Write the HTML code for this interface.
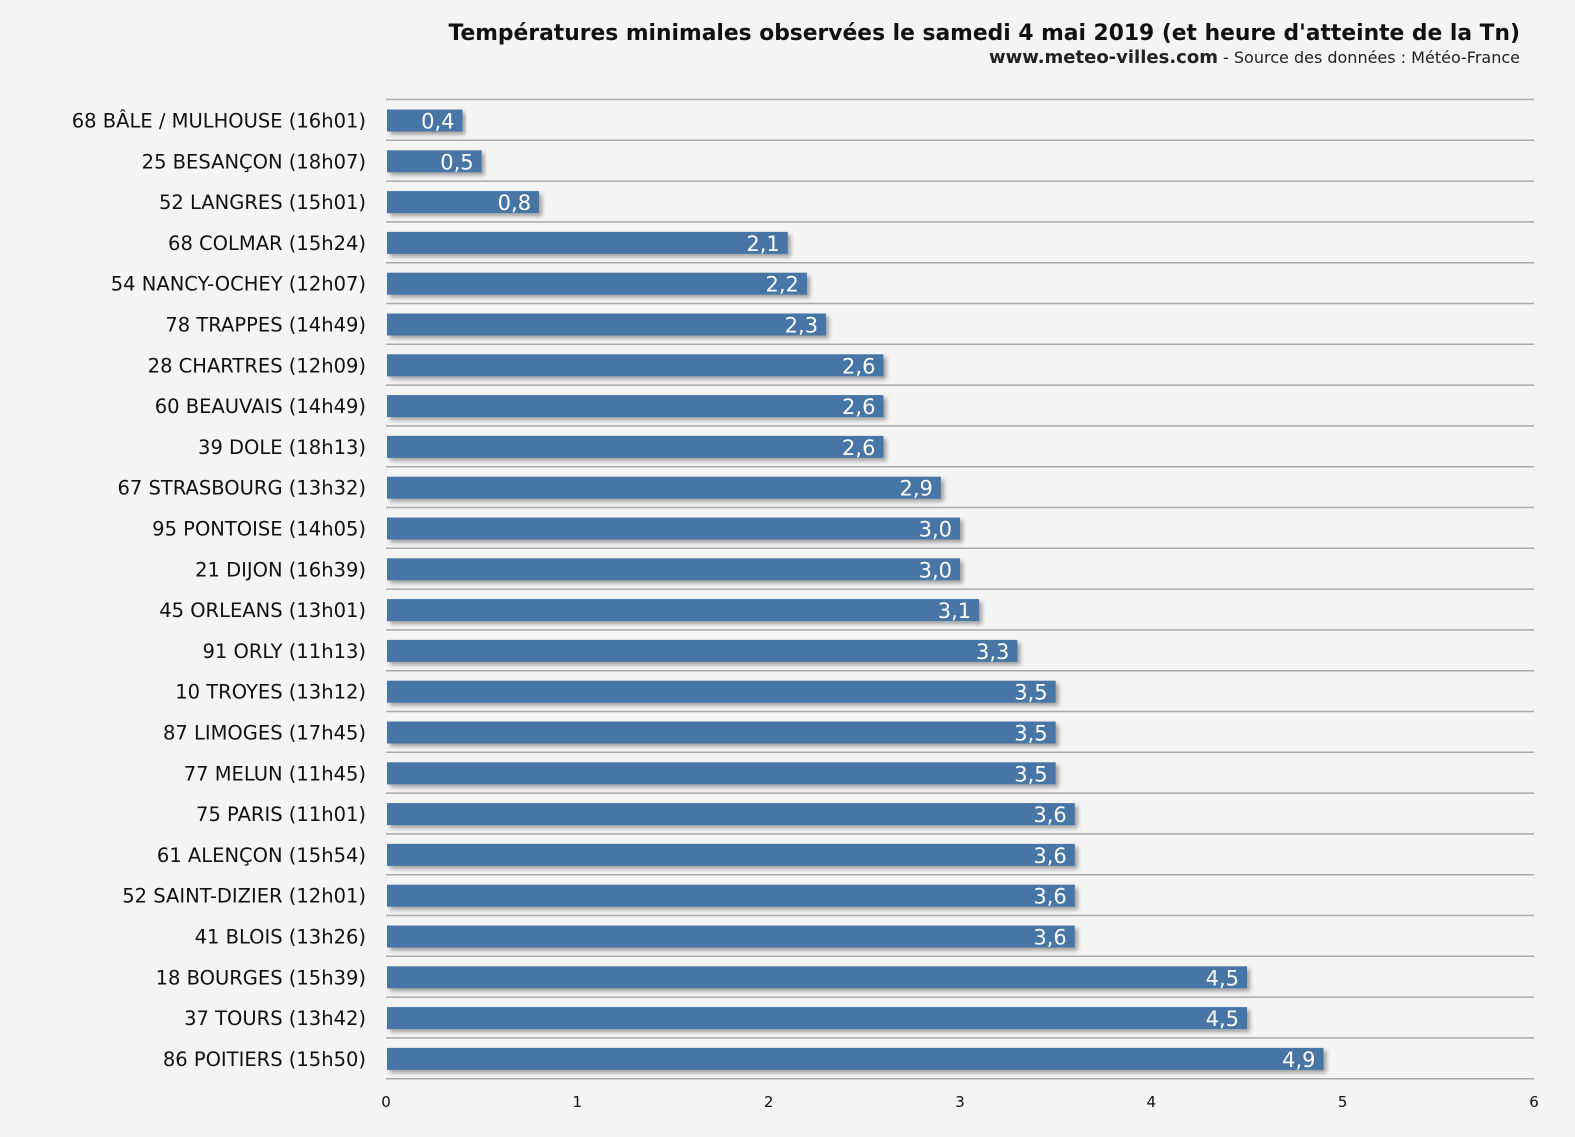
<!DOCTYPE html>
<html><head><meta charset="utf-8"><style>
body{margin:0;background:#f4f4f4;}
svg{display:block;font-family:"DejaVu Sans","Liberation Sans",sans-serif;}
</style></head><body>
<svg id="chart" width="1575" height="1137" viewBox="0 0 1575 1137">
<defs><filter id="sh" x="-5%" y="-20%" width="110%" height="160%"><feGaussianBlur in="SourceAlpha" stdDeviation="2"/><feOffset dx="3" dy="3"/><feComponentTransfer><feFuncA type="linear" slope="0.35"/></feComponentTransfer><feMerge><feMergeNode/><feMergeNode in="SourceGraphic"/></feMerge></filter></defs>
<rect width="1575" height="1137" fill="#f4f4f4"/>
<text x="1520" y="40" text-anchor="end" font-size="21.8" font-weight="bold" fill="#111">Températures minimales observées le samedi 4 mai 2019 (et heure d'atteinte de la Tn)</text>
<text x="1520" y="63" text-anchor="end" font-size="16" fill="#222"><tspan font-weight="bold" font-size="18">www.meteo-villes.com</tspan> - Source des données : Météo-France</text>
<g id="grid"></g><g id="bars"></g><g id="labels"></g><g id="ticks"></g>
</svg>
<script>
const categories=["68 BÂLE / MULHOUSE (16h01)","25 BESANÇON (18h07)","52 LANGRES (15h01)","68 COLMAR (15h24)","54 NANCY-OCHEY (12h07)","78 TRAPPES (14h49)","28 CHARTRES (12h09)","60 BEAUVAIS (14h49)","39 DOLE (18h13)","67 STRASBOURG (13h32)","95 PONTOISE (14h05)","21 DIJON (16h39)","45 ORLEANS (13h01)","91 ORLY (11h13)","10 TROYES (13h12)","87 LIMOGES (17h45)","77 MELUN (11h45)","75 PARIS (11h01)","61 ALENÇON (15h54)","52 SAINT-DIZIER (12h01)","41 BLOIS (13h26)","18 BOURGES (15h39)","37 TOURS (13h42)","86 POITIERS (15h50)"];
const values=[0.4,0.5,0.8,2.1,2.2,2.3,2.6,2.6,2.6,2.9,3.0,3.0,3.1,3.3,3.5,3.5,3.5,3.6,3.6,3.6,3.6,4.5,4.5,4.9];
const tickLabels=["0","1","2","3","4","5","6"];
const NS="http://www.w3.org/2000/svg";
const x0=386,x1=1534,xMax=6,y0=99.5,band=40.8;
const xs=v=>x0+(x1-x0)*v/xMax;
const ys=i=>y0+i*band;
function mk(t,a,p){const e=document.createElementNS(NS,t);for(const k in a)e.setAttribute(k,a[k]);document.getElementById(p).appendChild(e);return e;}
for(let i=0;i<=categories.length;i++){
  const l=mk("line",{x1:x0,x2:x1,y1:ys(i),y2:ys(i),stroke:"#aaa","stroke-width":1.5},"grid");
  
  
}
categories.forEach((c,i)=>{
  const y=ys(i);
  const r=mk("rect",{x:x0+1,y:y+10,width:xs(values[i])-x0-1,height:22,fill:"#4674a5",filter:"url(#sh)"},"bars");
  
  
  const v=mk("text",{x:xs(values[i])-8,y:y+29,"text-anchor":"end","font-size":21,fill:"#fff"},"bars");
  v.textContent=values[i].toFixed(1).replace(".",",");
  
  
  const t=mk("text",{x:366,y:y+28,"text-anchor":"end","font-size":19.5,fill:"#111"},"labels");
  t.textContent=c;
  
  
});
tickLabels.forEach((s,i)=>{
  const t=mk("text",{x:xs(i),y:1107,"text-anchor":"middle","font-size":15,fill:"#111"},"ticks");
  t.textContent=s;
  
  
});
</script>
</body></html>
